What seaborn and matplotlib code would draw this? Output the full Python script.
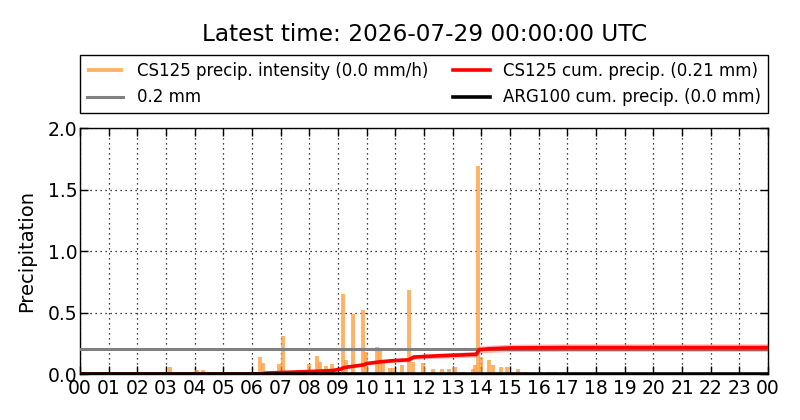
import numpy as np
import pandas as pd
import matplotlib
matplotlib.use("Agg")
import matplotlib.pyplot as plt
import seaborn as sns

# CS125 precipitation intensity (mm/h), spikes
intensity_hours = [3.14, 4.08, 4.30, 5.47, 6.28, 6.37, 6.95, 7.07, 7.99, 8.28, 8.37,
                   8.57, 8.80, 9.16, 9.28, 9.53, 9.88, 9.98, 10.35, 10.47, 10.58,
                   10.81, 10.93, 11.22, 11.48, 11.62, 11.98, 12.33, 12.62, 12.88,
                   13.08, 13.37, 13.72, 13.78, 13.88, 13.98, 14.28, 14.40, 14.69,
                   14.88, 15.29, 15.55, 16.05, 16.37, 16.57]
intensity_mmh = [0.06, 0.03, 0.035, 0.02, 0.14, 0.09, 0.08, 0.31, 0.08, 0.15, 0.10,
                 0.065, 0.08, 0.65, 0.11, 0.49, 0.52, 0.18, 0.22, 0.20, 0.10,
                 0.05, 0.05, 0.07, 0.68, 0.10, 0.09, 0.04, 0.04, 0.04,
                 0.06, 0.02, 0.04, 0.07, 1.69, 0.14, 0.11, 0.07, 0.06,
                 0.06, 0.04, 0.02, 0.02, 0.02, 0.02]

# CS125 cumulative precipitation (mm) and its uncertainty band
cum_hours = [0.0, 6.3, 6.5, 7.0, 8.0, 8.8, 9.1, 9.2, 9.9, 10.0, 10.5, 11.0, 11.45,
             11.65, 12.5, 13.82, 13.92, 14.3, 15.0, 17.0, 24.0]
cum_mm = [0.0, 0.0, 0.008, 0.012, 0.02, 0.028, 0.04, 0.052, 0.075, 0.085, 0.10,
          0.11, 0.115, 0.138, 0.148, 0.16, 0.198, 0.205, 0.212, 0.215, 0.215]
cum_low = [0.0, 0.0, 0.006, 0.01, 0.017, 0.024, 0.035, 0.046, 0.067, 0.076, 0.089,
           0.097, 0.10, 0.12, 0.128, 0.138, 0.17, 0.176, 0.182, 0.184, 0.184]
cum_high = [0.0, 0.0, 0.01, 0.015, 0.024, 0.033, 0.046, 0.06, 0.085, 0.096, 0.113,
            0.125, 0.131, 0.157, 0.169, 0.183, 0.226, 0.234, 0.242, 0.246, 0.246]

# ARG100 cumulative precipitation (mm)
arg_hours = [0.0, 24.0]
arg_mm = [0.0, 0.0]

threshold_mm = 0.2
hour_labels = [f"{h:02d}" for h in range(24)] + ["00"]

title = "Latest time: 2026-07-29 00:00:00 UTC"

cum_df = pd.DataFrame({"hour": cum_hours, "cum": cum_mm})
arg_df = pd.DataFrame({"hour": arg_hours, "cum": arg_mm})

fig = plt.figure(figsize=(8, 4.2), dpi=100)
ax = fig.add_axes([0.1, 0.1095, 0.86, 0.5855])

ax.vlines(intensity_hours, 0, intensity_mmh, color="#ff9933", alpha=0.75, lw=2.8,
          label="CS125 precip. intensity (0.0 mm/h)", zorder=2)
ax.axhline(threshold_mm, color="#808080", lw=2.2, label="0.2 mm", zorder=3)
ax.fill_between(cum_hours, cum_low, cum_high, color="red", alpha=0.28, lw=0, zorder=3)
sns.lineplot(data=cum_df, x="hour", y="cum", ax=ax, color="red", lw=2.6,
             label="CS125 cum. precip. (0.21 mm)", zorder=4)
sns.lineplot(data=arg_df, x="hour", y="cum", ax=ax, color="black", lw=2.6,
             label="ARG100 cum. precip. (0.0 mm)", zorder=5)

ax.set_xlim(0, 24)
ax.set_ylim(0, 2.0)
ax.set_xticks(range(25))
ax.set_xticklabels(hour_labels)
ax.set_yticks([0, 0.5, 1.0, 1.5, 2.0])
ax.set_yticklabels(["0.0", "0.5", "1.0", "1.5", "2.0"])
ax.tick_params(direction="in", top=True, right=True, length=6, width=1,
               labelsize=13.5, colors="black", pad=2)
ax.tick_params(axis="x", pad=3.5)
ax.grid(True, color="black", linestyle=(0, (1, 3)), lw=0.9)
for s in ax.spines.values():
    s.set_color("black")
    s.set_linewidth(1)
ax.set_xlabel("")
ax.set_ylabel("Precipitation", fontsize=14, labelpad=8)

handles, labels = ax.get_legend_handles_labels()
order = ["CS125 precip. intensity (0.0 mm/h)", "0.2 mm",
         "CS125 cum. precip. (0.21 mm)", "ARG100 cum. precip. (0.0 mm)"]
hmap = dict(zip(labels, handles))
leg = ax.legend([hmap[l] for l in order], order, loc="lower left",
                bbox_to_anchor=(0, 1.061, 1, 0.23), mode="expand", ncol=2,
                borderaxespad=0, fancybox=False, edgecolor="black",
                framealpha=1, fontsize=12, handlelength=2.2)
leg.get_frame().set_linewidth(1)

fig.text(0.531, 0.918, title, ha="center", va="center", fontsize=16.7)

fig.savefig("out.png", dpi=100)
